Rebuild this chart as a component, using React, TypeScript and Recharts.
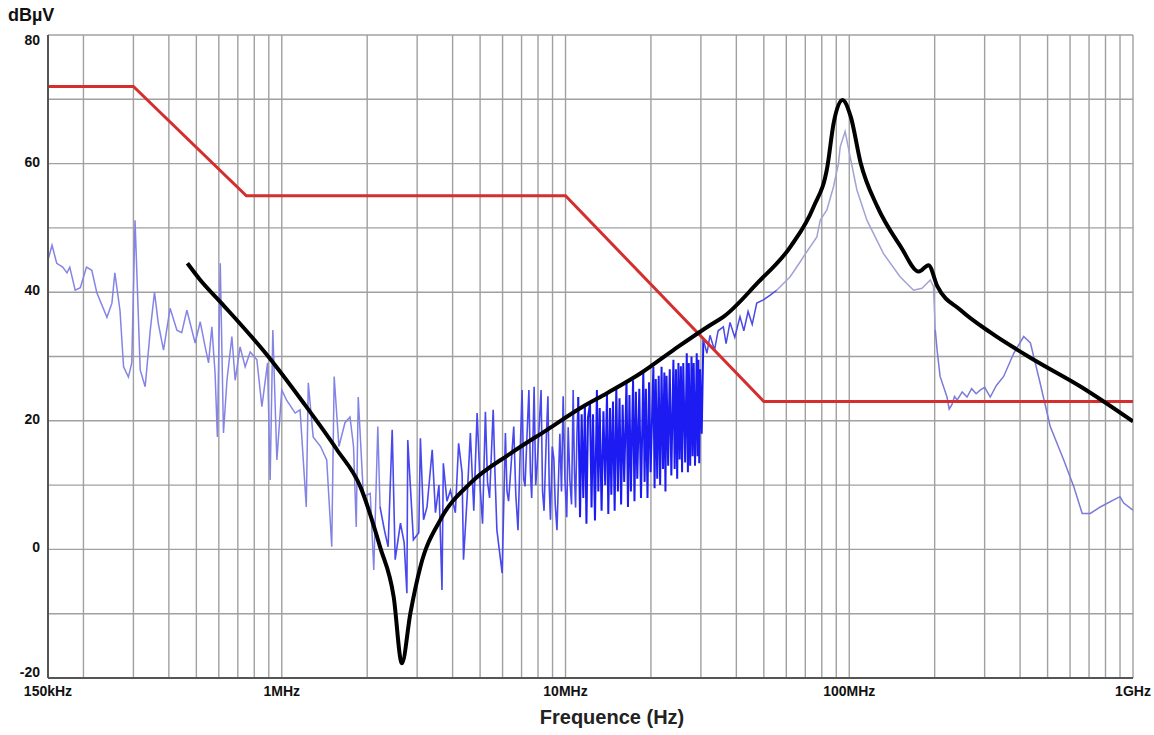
import React from "react"
import { LineChart, Line, XAxis, YAxis, CartesianGrid } from "recharts"

// frequency in MHz, level in dBµV
const limitLine: Array<[number, number]> = [
  [0.15, 72], [0.3, 72], [0.75, 55], [10, 55], [50, 23], [1000, 23],
]

const measured: Array<[number, number]> = [
  [0.15, 45.0], [0.155, 47.3], [0.161, 44.5], [0.169, 43.9], [0.175, 43.0], [0.179, 43.9],
  [0.187, 40.3], [0.195, 40.7], [0.205, 43.9], [0.214, 43.4], [0.223, 39.9], [0.242, 36.1],
  [0.252, 38.3], [0.258, 43.0], [0.269, 37.2], [0.277, 28.4], [0.288, 26.8], [0.296, 29.0],
  [0.304, 51.2], [0.317, 27.9], [0.33, 25.3], [0.344, 34.1], [0.356, 40.0], [0.367, 35.2],
  [0.383, 31.0], [0.404, 37.5], [0.427, 34.1], [0.444, 33.7], [0.463, 37.2], [0.495, 32.1],
  [0.516, 35.4], [0.537, 31.5], [0.552, 29.0], [0.567, 34.6], [0.582, 27.4], [0.593, 17.5],
  [0.607, 44.5], [0.623, 18.1], [0.641, 26.3], [0.667, 33.1], [0.685, 26.3], [0.713, 31.5],
  [0.743, 28.4], [0.774, 30.7], [0.817, 29.5], [0.851, 22.2], [0.891, 29.0], [0.91, 10.8],
  [0.93, 34.1], [0.961, 13.9], [1.0, 24.8], [1.04, 23.2], [1.115, 21.2], [1.16, 21.7],
  [1.22, 6.6], [1.24, 25.9], [1.29, 17.5], [1.37, 16.0], [1.44, 13.9], [1.5, 0.4],
  [1.53, 26.9], [1.59, 16.0], [1.67, 19.7], [1.74, 20.6], [1.79, 16.0], [1.83, 3.5],
  [1.86, 23.7], [1.94, 8.2], [2.05, 8.7], [2.11, -3.2], [2.18, 19.1], [2.22, 6.6],
  [2.3, 3.0], [2.37, 0.4], [2.45, 18.6], [2.51, -1.6], [2.62, 4.1], [2.7, 1.0],
  [2.76, -6.8], [2.78, 17.0], [2.91, 1.5], [3.04, 2.6], [3.08, 17.3], [3.16, 4.6],
  [3.25, 6.6], [3.39, 15.5], [3.48, 5.7], [3.58, 10.0], [3.67, -6.3], [3.71, 13.4],
  [3.82, 7.5], [3.93, 9.2], [4.09, 5.7], [4.2, 16.5], [4.32, 11.9], [4.37, -1.6],
  [4.5, 8.0], [4.62, 18.1], [4.75, 6.0], [4.88, 21.2], [5.01, 9.2], [5.1, 4.0],
  [5.22, 21.4], [5.31, 10.5], [5.4, 8.0], [5.56, 21.7], [5.65, 11.0], [5.73, 3.0],
  [5.98, -3.7], [6.14, 18.1], [6.22, 9.0], [6.3, 7.5], [6.45, 14.0], [6.57, 19.1],
  [6.68, 8.5], [6.8, 3.0], [6.92, 15.0], [7.03, 24.8], [7.12, 11.0], [7.2, 9.8],
  [7.32, 18.0], [7.43, 24.8], [7.52, 12.0], [7.6, 8.0], [7.75, 25.3], [7.85, 10.0],
  [7.94, 12.9], [8.07, 19.0], [8.2, 24.8], [8.3, 9.0], [8.4, 6.0], [8.55, 17.0],
  [8.67, 23.8], [8.76, 10.0], [8.85, 4.6], [8.98, 16.0], [9.1, 14.0], [9.2, 7.0],
  [9.33, 3.0], [9.55, 18.0], [9.68, 9.0], [9.81, 23.8], [9.95, 11.0], [10.1, 5.0],
  [10.22, 19.0], [10.36, 10.8], [10.5, 7.0], [10.64, 24.8], [10.75, 12.0], [10.85, 6.5],
  [10.97, 18.0], [11.09, 23.7],
  [11.25, 5.0], [11.4, 21.0], [11.55, 8.0], [11.7, 22.5], [11.85, 4.0], [12.0, 20.5],
  [12.2, 22.7], [12.35, 6.5], [12.5, 21.0], [12.7, 4.5], [12.9, 24.8], [13.05, 9.0],
  [13.2, 22.0], [13.4, 6.0], [13.6, 21.5], [13.8, 10.0], [14.0, 24.3], [14.15, 5.5],
  [14.35, 22.0], [14.5, 8.5], [14.7, 23.0], [14.9, 6.0], [15.1, 25.3], [15.3, 9.0],
  [15.5, 23.5], [15.7, 7.0], [15.9, 22.5], [16.1, 10.5], [16.4, 26.3], [16.6, 6.6],
  [16.8, 24.0], [17.0, 9.0], [17.3, 26.3], [17.5, 7.5], [17.7, 24.5], [17.9, 11.0],
  [18.2, 25.0], [18.45, 8.0], [18.8, 27.9], [19.0, 10.5], [19.2, 25.0], [19.45, 8.0],
  [19.7, 26.0], [19.95, 12.0], [20.4, 28.4], [20.6, 9.5], [20.8, 26.5], [21.05, 11.0],
  [21.3, 27.0], [21.55, 10.0], [21.8, 28.4], [22.05, 12.5], [22.3, 27.5], [22.5, 9.0],
  [22.7, 27.0], [23.0, 13.0], [23.3, 28.0], [23.6, 11.5], [24.0, 29.5], [24.25, 12.5],
  [24.5, 28.0], [24.75, 11.0], [25.0, 29.0], [25.25, 14.0], [25.5, 28.5], [25.75, 12.0],
  [26.0, 29.0], [26.4, 13.5], [26.75, 30.5], [27.0, 12.0], [27.2, 29.0], [27.5, 13.0],
  [27.8, 30.0], [28.05, 14.5], [28.3, 29.0], [28.6, 13.0], [29.0, 30.5], [29.2, 14.5],
  [29.4, 29.5], [29.6, 13.4], [29.8, 28.0], [30.2, 18.0],
  [30.6, 32.6], [31.5, 30.5], [32.3, 33.3], [33.5, 31.0], [34.5, 34.0], [36.0, 34.6],
  [36.8, 32.0], [38.0, 35.3], [39.5, 33.0], [41.2, 36.2], [42.5, 34.0], [44.0, 37.0],
  [45.5, 35.0], [47.2, 38.3], [49.8, 38.8], [52.5, 39.5], [55.5, 40.3], [61.9, 42.4],
  [67.1, 44.7], [68.9, 45.5], [76.9, 48.6], [79.0, 51.2], [83.4, 52.8], [88.0, 56.4],
  [91.6, 60.0], [92.9, 62.6], [96.7, 65.0], [100.7, 61.1], [106.4, 55.9], [115.4, 51.2],
  [132, 46.0], [151, 42.4], [168.5, 40.3], [180.4, 40.6], [193, 41.9], [198, 40.9],
  [201, 34.1], [204, 31.0], [209, 26.9], [221, 23.7], [225, 21.8], [230, 22.5],
  [235, 23.8], [240, 23.2], [250, 24.5], [260, 23.7], [270, 25.0], [280, 24.2],
  [290, 24.8], [300, 25.2], [314, 23.7], [330, 25.5], [350, 26.9], [380, 30.5],
  [412, 33.1], [435, 32.1], [471, 25.8], [511, 19.1], [570, 13.9], [618, 9.8],
  [662, 5.6], [707, 5.6], [767, 6.6], [855, 7.7], [900, 8.2], [927, 7.2], [1000, 6.1],
]

const simulated: Array<[number, number]> = [
  [0.465, 44.5], [0.516, 41.9], [0.613, 38.3], [0.896, 30.0], [1.174, 23.2], [1.565, 15.5],
  [1.89, 9.8], [2.22, 0.4], [2.48, -7.4], [2.65, -17.7], [2.84, -9.9], [3.08, -2.7],
  [3.62, 4.6], [4.62, 10.3], [6.39, 14.9], [8.61, 18.6], [11.3, 22.0], [14.0, 24.3],
  [18.4, 27.4], [24.0, 31.0], [32.4, 34.9], [36.1, 36.2], [47.4, 41.4], [62.1, 47.1],
  [74.9, 53.3], [83.7, 59.5], [88.1, 66.3], [94.6, 69.9], [101.2, 67.3], [109.7, 60.1],
  [125.6, 53.3], [151.8, 47.1], [175.8, 43.2], [190.2, 44.2], [204.5, 40.9], [247.2, 37.2],
  [315.3, 33.7], [447, 29.5], [655, 25.3], [1000, 19.9],
]

// colour and width of the measured trace per frequency band
const bands: Array<[number, number, string, number]> = [
  [0.15, 2.22, "#8484e6", 1.5],
  [2.22, 11.09, "#4848ee", 1.6],
  [11.09, 30.6, "#1c1cf2", 2],
  [30.6, 55.5, "#4a4ae4", 1.5],
  [55.5, 201, "#a2a2d4", 1.5],
  [201, 1000, "#7a7ad8", 1.5],
]

const xGrid = [
  0.15, 0.2, 0.3, 0.4, 0.5, 0.6, 0.7, 0.8, 0.9,
  1, 2, 3, 4, 5, 6, 7, 8, 9,
  10, 20, 30, 40, 50, 60, 70, 80, 90,
  100, 200, 300, 400, 500, 600, 700, 800, 900, 1000,
]
const xLabels: Array<[number, string]> = [
  [0.15, "150kHz"], [1, "1MHz"], [10, "10MHz"], [100, "100MHz"], [1000, "1GHz"],
]
const yGrid = [-20, -10, 0, 10, 20, 30, 40, 50, 60, 70, 80]
const yLabels = [-20, 0, 20, 40, 60, 80]

const FONT = "'Liberation Sans', Arial, sans-serif"

const toPoints = (rows: Array<[number, number]>) => rows.map(([f, db]) => ({ f, db }))

function XTick(props: any) {
  const { x, y, payload } = props
  const hit = xLabels.find(([v]) => v === payload.value)
  if (!hit) return <g />
  return (
    <text x={x} y={y + 14} textAnchor="middle" fontSize={14} fontWeight="bold" fontFamily={FONT} fill="#111">
      {hit[1]}
    </text>
  )
}

function YTick(props: any) {
  const { x, y, payload } = props
  if (!yLabels.includes(payload.value)) return <g />
  const shift = payload.value === 80 ? 10 : payload.value === -20 ? -1 : 3
  return (
    <text x={x} y={y + shift} textAnchor="end" fontSize={14} fontWeight="bold" fontFamily={FONT} fill="#111">
      {payload.value}
    </text>
  )
}

export default function App() {
  return (
    <div style={{ position: "absolute", left: 0, top: 0, width: 1154, height: 735, background: "#fff" }}>
      <LineChart width={1154} height={735} margin={{ top: 35, right: 21, left: 0, bottom: 0 }}>
        <CartesianGrid stroke="#a0a0a0" strokeWidth={1.4} />
        <XAxis
          dataKey="f"
          type="number"
          scale="log"
          domain={[0.15, 1000]}
          ticks={xGrid}
          interval={0}
          tick={<XTick />}
          tickLine={false}
          tickSize={0}
          tickMargin={4}
          height={57}
          axisLine={{ stroke: "#555", strokeWidth: 2 }}
          allowDataOverflow
        />
        <YAxis
          dataKey="db"
          type="number"
          domain={[-20, 80]}
          ticks={yGrid}
          interval={0}
          tick={<YTick />}
          tickLine={false}
          tickSize={0}
          tickMargin={8}
          width={48}
          axisLine={{ stroke: "#555", strokeWidth: 2 }}
          allowDataOverflow
        />
        {bands.map(([from, to, color, width]) => (
          <Line
            key={from}
            data={toPoints(measured.filter(([f]) => f >= from && f <= to))}
            dataKey="db"
            type="linear"
            stroke={color}
            strokeWidth={width}
            dot={false}
            isAnimationActive={false}
          />
        ))}
        <Line
          data={toPoints(limitLine)}
          dataKey="db"
          type="linear"
          stroke="#d42e2e"
          strokeWidth={3}
          dot={false}
          isAnimationActive={false}
        />
        <Line
          data={toPoints(simulated)}
          dataKey="db"
          type="monotone"
          stroke="#000"
          strokeWidth={4}
          dot={false}
          isAnimationActive={false}
        />
      </LineChart>
      <div style={{ position: "absolute", left: 8, top: 5, fontFamily: FONT, fontWeight: "bold", fontSize: 18, color: "#111" }}>
        dBµV
      </div>
      <div
        style={{
          position: "absolute",
          left: 612,
          top: 706,
          transform: "translateX(-50%)",
          fontFamily: FONT,
          fontWeight: "bold",
          fontSize: 20,
          color: "#222",
          whiteSpace: "nowrap",
        }}
      >
        Frequence (Hz)
      </div>
    </div>
  )
}
